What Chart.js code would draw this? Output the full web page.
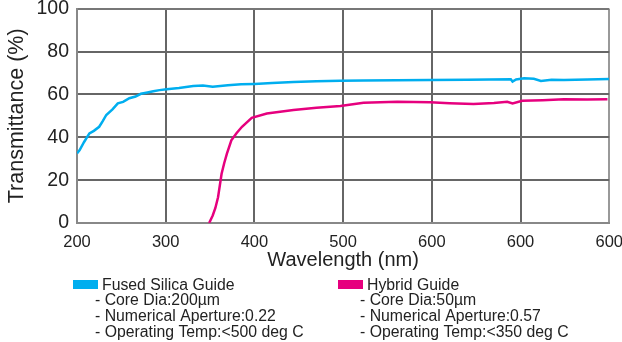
<!DOCTYPE html>
<html>
<head>
<meta charset="utf-8">
<script src="https://cdn.jsdelivr.net/npm/chart.js@4"></script>
<style>
  body { margin: 0; overflow: hidden; background: #fff; }
  /* chart.js keeps ~20px above and ~24px right of the plot whatever padding is set,
     so the box is shifted up and widened to put the plot where the original has it */
  .box { position: absolute; left: 0; top: -11px; width: 633px; height: 353px; }
</style>
</head>
<body>
<div class="box"><canvas id="chart"></canvas></div>
<script>
// tick labels as printed on the original (the last three really all say 600)
const xTickLabels = ['200', '300', '400', '500', '600', '600', '600'];

// fused silica guide (axis position, %)
const silicaX = [200, 203, 208, 214, 219, 225, 229, 233, 240, 246, 252, 259, 266, 272, 278, 286, 293, 301, 315, 331, 342, 353, 370, 385, 400, 420, 444, 470, 497, 523, 560, 598, 640, 689, 691, 695, 704, 715, 723, 735, 749, 775, 800];
const silicaY = [32.5, 34, 37.8, 41.8, 43, 44.9, 47.5, 50.4, 53, 55.8, 56.5, 58.2, 59, 60.3, 60.8, 61.5, 62, 62.4, 63, 63.9, 64.2, 63.6, 64.3, 64.7, 64.9, 65.3, 65.8, 66.1, 66.4, 66.5, 66.6, 66.7, 66.9, 67.1, 66.0, 67.0, 67.5, 67.3, 66.3, 66.8, 66.7, 67.0, 67.2];

// hybrid guide
const hybridX = [349, 353, 356, 359, 363, 366, 369, 374, 380, 386, 397, 414, 444, 470, 497, 523, 561, 598, 620, 647, 670, 685, 691, 702, 725, 749, 775, 798];
const hybridY = [0, 3.5, 7, 12, 23, 28, 32.4, 38.6, 42, 44.9, 49.1, 51.1, 52.7, 53.8, 54.6, 56.1, 56.6, 56.3, 55.9, 55.5, 56.0, 56.6, 55.8, 57.0, 57.3, 57.7, 57.6, 57.8];

const seriesNames = ['Fused Silica Guide', 'Hybrid Guide'];
const seriesColors = ['#00aeef', '#e6007e'];
const seriesNotes = [
  ['- Core Dia:200\u00b5m', '- Numerical Aperture:0.22', '- Operating Temp:<500 deg C'],
  ['- Core Dia:50\u00b5m', '- Numerical Aperture:0.57', '- Operating Temp:<350 deg C']
];

function toPoints(xs, ys) {
  return xs.map((x, i) => ({ x: x, y: ys[i] }));
}

// legend block under the plot, drawn on the canvas
const boxShift = 11; // matches the -11px top of .box
const guideLegend = {
  id: 'guideLegend',
  afterDraw(chart) {
    const ctx = chart.ctx;
    const cols = [73, 338];
    ctx.save();
    ctx.font = '15.8px "Liberation Sans", Arial, sans-serif';
    ctx.textBaseline = 'alphabetic';
    cols.forEach((left, i) => {
      ctx.fillStyle = seriesColors[i];
      ctx.fillRect(left, 280 + boxShift, 25, 9);
      ctx.fillStyle = '#222';
      ctx.fillText(seriesNames[i], left + 29, 289.5 + boxShift);
      seriesNotes[i].forEach((t, j) => {
        ctx.fillText(t, left + 22, 305.3 + boxShift + j * 15.9);
      });
    });
    ctx.restore();
  }
};

const xAxis = {
  type: 'linear', min: 200, max: 800,
  afterFit: s => { s.height = 49; },
  afterBuildTicks: s => { s.ticks = xTickLabels.map((_, i) => ({ value: 200 + i * 100 })); },
  ticks: {
    callback: (v, i) => xTickLabels[i],
    color: '#222',
    font: { family: 'Liberation Sans', size: 16.5 },
    padding: 10,
    maxRotation: 0,
    autoSkip: false
  },
  grid: {
    color: c => (c.index === xTickLabels.length - 1 ? '#999' : '#666'),
    lineWidth: 2,
    drawTicks: false
  },
  border: { display: true, color: '#888', width: 2 },
  title: {
    display: true, text: 'Wavelength (nm)', color: '#222',
    font: { family: 'Liberation Sans', size: 20 },
    padding: { top: -9, bottom: 0 }
  }
};
const yAxis = {
  min: 0, max: 100,
  afterFit: s => { s.width = 77; },
  ticks: {
    stepSize: 20,
    color: '#222',
    font: { family: 'Liberation Sans', size: 19.5 },
    padding: 8
  },
  grid: {
    color: c => (c.index === 5 ? '#777' : '#666'),
    lineWidth: 2,
    drawTicks: false
  },
  border: { display: true, color: '#888', width: 2 },
  title: {
    display: true, text: 'Transmittance (%)', color: '#222',
    font: { family: 'Liberation Sans', size: 21.5 },
    padding: { top: 4, bottom: 0 }
  }
};

new Chart(document.getElementById('chart'), {
  type: 'line',
  data: {
    datasets: [
      { label: seriesNames[0], data: toPoints(silicaX, silicaY), borderColor: seriesColors[0], borderWidth: 2.5, pointRadius: 0, tension: 0 },
      { label: seriesNames[1], data: toPoints(hybridX, hybridY), borderColor: seriesColors[1], borderWidth: 2.5, pointRadius: 0, tension: 0 }
    ]
  },
  options: {
    responsive: true,
    maintainAspectRatio: false,
    animation: false,
    layout: { padding: { top: 0, right: 0, bottom: 70, left: 0 }, autoPadding: false },
    plugins: { legend: { display: false }, tooltip: { enabled: false } },
    scales: { x: xAxis, y: yAxis }
  },
  plugins: [guideLegend]
});
</script>
</body>
</html>
